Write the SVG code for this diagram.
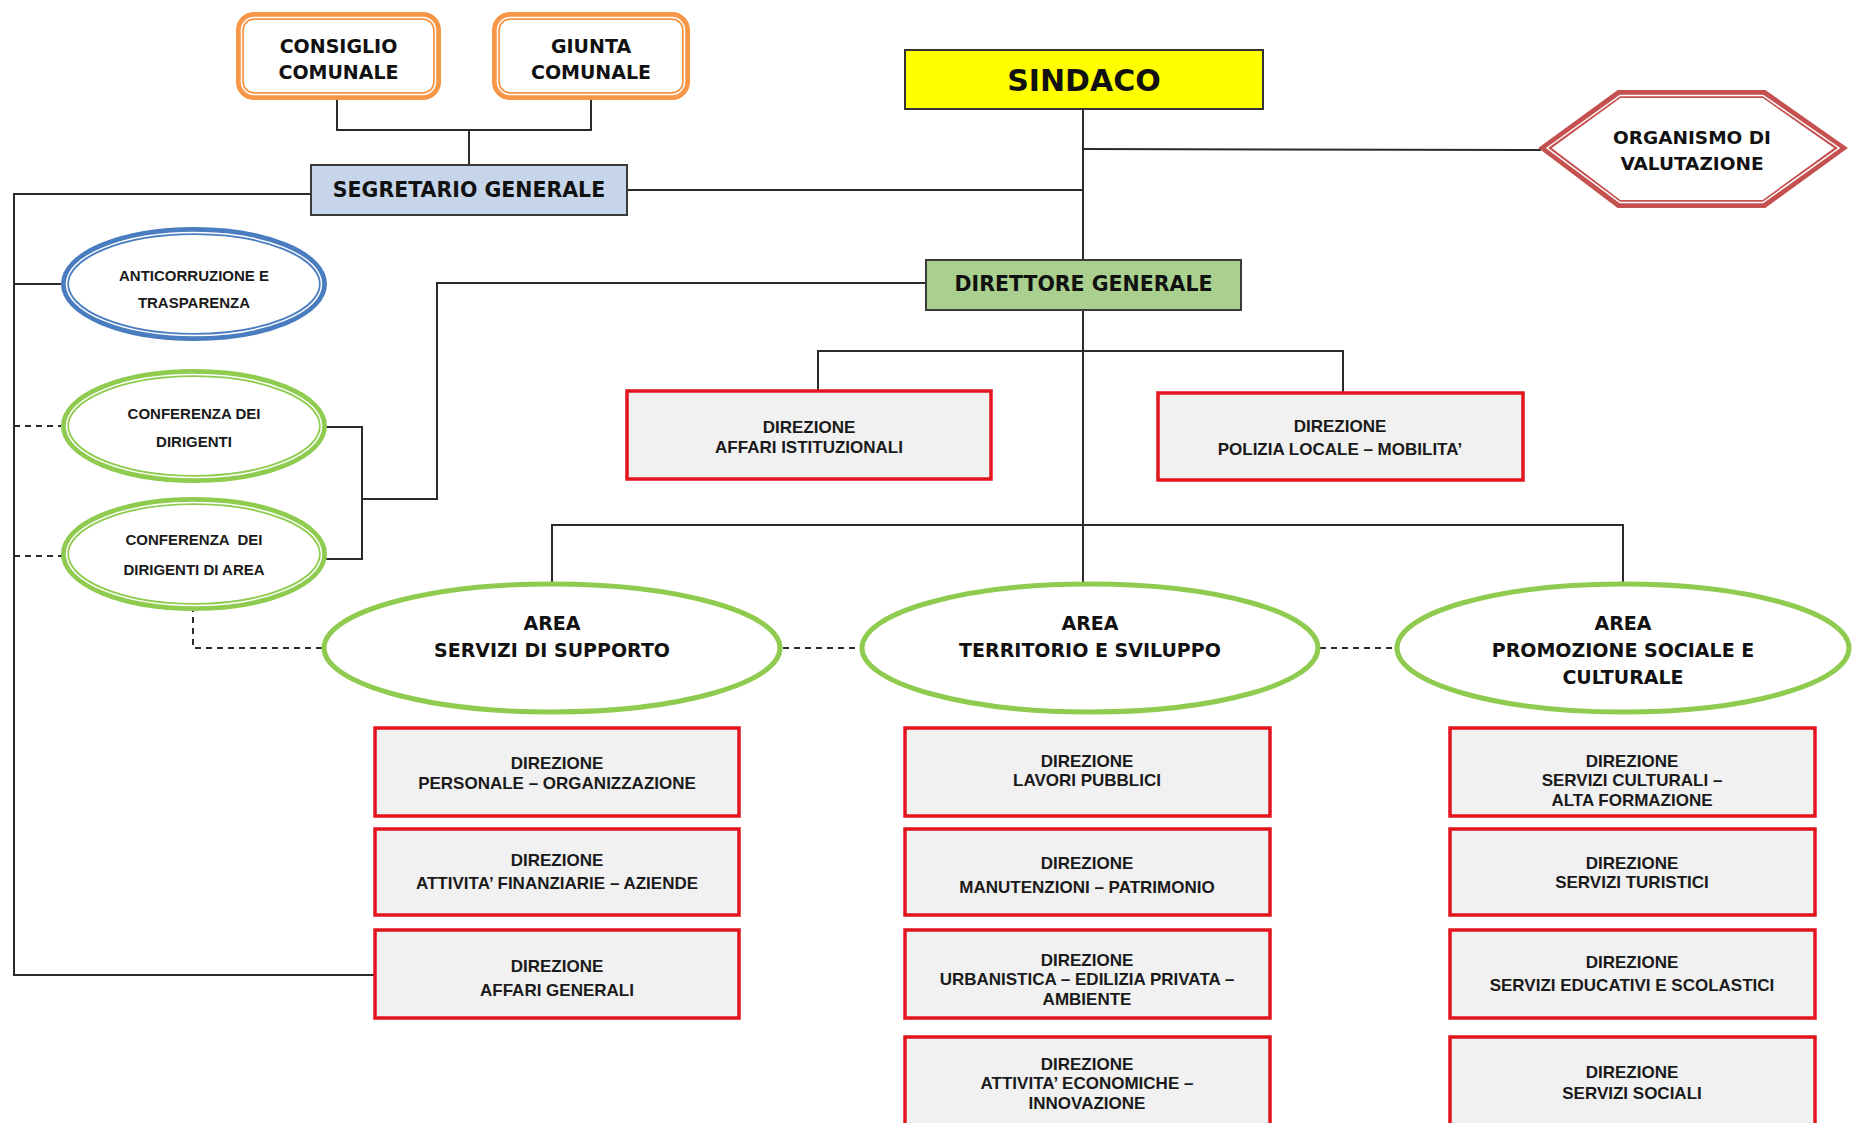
<svg xmlns="http://www.w3.org/2000/svg" width="1854" height="1123" viewBox="0 0 1854 1123">
<style>
.ln{stroke:#2b2b2b;stroke-width:2;fill:none}
.dash{stroke:#2b2b2b;stroke-width:2;stroke-dasharray:6 5;fill:none}
.red{fill:#f1f1f1;stroke:#e3141e;stroke-width:3.5}
.wl{fill:none;stroke:#ffffff;stroke-width:1.5}
.org{fill:#ffffff;stroke:#f79646;stroke-width:8}
.blu{fill:#ffffff;stroke:#4a7dbf;stroke-width:8}
.grn{fill:#ffffff;stroke:#8fcb4f;stroke-width:8}
.hex{fill:#ffffff;stroke:#c4504f;stroke-width:8}
.h{font-family:"DejaVu Sans","Liberation Sans",sans-serif;font-weight:bold;fill:#111;text-anchor:middle}
.s{font-family:"Liberation Sans","DejaVu Sans",sans-serif;font-weight:bold;fill:#1a1a1a;text-anchor:middle}
.d{font-size:17px}
</style>
<rect width="1854" height="1123" fill="#ffffff"/>
<g id="connectors">
<path class="ln" d="M337,100 V130 H591 V100 M469,130 V165"/>
<path class="ln" d="M1083,109 V260 M1083,310 V584"/>
<path class="ln" d="M1083,149 L1541,150"/>
<path class="ln" d="M627,190 H1083"/>
<path class="ln" d="M311,194 H14 V975 H375"/>
<path class="ln" d="M14,284 H61"/>
<path class="dash" d="M14,426 H62 M14,556 H62"/>
<path class="ln" d="M326,427 H362 V559 H326 M362,499 H437 V283 H926"/>
<path class="ln" d="M818,391 V351 H1343 V393"/>
<path class="ln" d="M552,585 V525 H1623 V585"/>
<path class="dash" d="M783,648 H860 M1320,648 H1395 M322,648 H193 V611"/>
</g>
<g id="consiglio">
<rect class="org" x="240" y="16" width="197" height="80" rx="14"/>
<rect class="wl" x="241.5" y="17.5" width="194" height="77" rx="12.5"/>
<text class="h" x="338.5" y="53" font-size="19">CONSIGLIO</text>
<text class="h" x="338.5" y="79" font-size="19">COMUNALE</text>
</g>
<g id="giunta">
<rect class="org" x="496" y="16" width="190" height="80" rx="14"/>
<rect class="wl" x="497.5" y="17.5" width="187" height="77" rx="12.5"/>
<text class="h" x="591" y="53" font-size="19">GIUNTA</text>
<text class="h" x="591" y="79" font-size="19">COMUNALE</text>
</g>
<g id="sindaco">
<rect x="905" y="50" width="358" height="59" fill="#ffff00" stroke="#333" stroke-width="2"/>
<text class="h" x="1084" y="91" font-size="30">SINDACO</text>
</g>
<g id="segretario">
<rect x="311" y="165" width="316" height="50" fill="#c6d5e9" stroke="#3a3a3a" stroke-width="2"/>
<text class="h" x="469" y="197" font-size="20.5">SEGRETARIO GENERALE</text>
</g>
<g id="organismo">
<polygon class="hex" points="1545,148 1619,94 1764,94 1841,148 1764,204 1619,204"/>
<polygon class="wl" points="1547,148 1620,95.5 1763,95.5 1839,148 1763,202.5 1620,202.5"/>
<text class="h" x="1692" y="144" font-size="18.5">ORGANISMO DI</text>
<text class="h" x="1692" y="170" font-size="18.5">VALUTAZIONE</text>
</g>
<g id="direttore">
<rect x="926" y="260" width="315" height="50" fill="#a9d08e" stroke="#3a3a3a" stroke-width="2"/>
<text class="h" x="1083.5" y="291" font-size="20.5">DIRETTORE GENERALE</text>
</g>
<g id="anticorruzione">
<ellipse class="blu" cx="194" cy="284" rx="129" ry="53"/>
<ellipse class="wl" cx="194" cy="284" rx="127.5" ry="51.5"/>
<text class="s" x="194" y="281" font-size="15">ANTICORRUZIONE E</text>
<text class="s" x="194" y="308" font-size="15">TRASPARENZA</text>
</g>
<g id="conferenza-dirigenti">
<ellipse class="grn" cx="194" cy="426" rx="129" ry="53"/>
<ellipse class="wl" cx="194" cy="426" rx="127.5" ry="51.5"/>
<text class="s" x="194" y="419" font-size="15">CONFERENZA DEI</text>
<text class="s" x="194" y="447" font-size="15">DIRIGENTI</text>
</g>
<g id="conferenza-area">
<ellipse class="grn" cx="194" cy="554" rx="129" ry="53"/>
<ellipse class="wl" cx="194" cy="554" rx="127.5" ry="51.5"/>
<text class="s" x="194" y="545" font-size="15" xml:space="preserve">CONFERENZA  DEI</text>
<text class="s" x="194" y="575" font-size="15">DIRIGENTI DI AREA</text>
</g>
<g id="dir-affari-istituzionali">
<rect class="red" x="627" y="391" width="364" height="88"/>
<text class="s d" x="809" y="433">DIREZIONE</text>
<text class="s d" x="809" y="453">AFFARI ISTITUZIONALI</text>
</g>
<g id="dir-polizia">
<rect class="red" x="1158" y="393" width="365" height="87"/>
<text class="s d" x="1340" y="432">DIREZIONE</text>
<text class="s d" x="1340" y="455">POLIZIA LOCALE – MOBILITA’</text>
</g>
<g id="area-supporto">
<ellipse cx="552" cy="648" rx="228" ry="64" fill="#fff" stroke="#8fcb4f" stroke-width="5"/>
<text class="h" x="552" y="630" font-size="19">AREA</text>
<text class="h" x="552" y="657" font-size="19">SERVIZI DI SUPPORTO</text>
</g>
<g id="area-territorio">
<ellipse cx="1090" cy="648" rx="228" ry="64" fill="#fff" stroke="#8fcb4f" stroke-width="5"/>
<text class="h" x="1090" y="630" font-size="19">AREA</text>
<text class="h" x="1090" y="657" font-size="19">TERRITORIO E SVILUPPO</text>
</g>
<g id="area-promozione">
<ellipse cx="1623" cy="648" rx="226" ry="64" fill="#fff" stroke="#8fcb4f" stroke-width="5"/>
<text class="h" x="1623" y="630" font-size="19">AREA</text>
<text class="h" x="1623" y="657" font-size="19">PROMOZIONE SOCIALE E</text>
<text class="h" x="1623" y="684" font-size="19">CULTURALE</text>
</g>
<g id="dir-personale">
<rect class="red" x="375" y="728" width="364" height="88"/>
<text class="s d" x="557" y="769">DIREZIONE</text>
<text class="s d" x="557" y="789">PERSONALE – ORGANIZZAZIONE</text>
</g>
<g id="dir-finanziarie">
<rect class="red" x="375" y="829" width="364" height="86"/>
<text class="s d" x="557" y="866">DIREZIONE</text>
<text class="s d" x="557" y="889">ATTIVITA’ FINANZIARIE – AZIENDE</text>
</g>
<g id="dir-affari-generali">
<rect class="red" x="375" y="930" width="364" height="88"/>
<text class="s d" x="557" y="972">DIREZIONE</text>
<text class="s d" x="557" y="996">AFFARI GENERALI</text>
</g>
<g id="dir-lavori-pubblici">
<rect class="red" x="905" y="728" width="365" height="88"/>
<text class="s d" x="1087" y="767">DIREZIONE</text>
<text class="s d" x="1087" y="786">LAVORI PUBBLICI</text>
</g>
<g id="dir-manutenzioni">
<rect class="red" x="905" y="829" width="365" height="86"/>
<text class="s d" x="1087" y="869">DIREZIONE</text>
<text class="s d" x="1087" y="893">MANUTENZIONI – PATRIMONIO</text>
</g>
<g id="dir-urbanistica">
<rect class="red" x="905" y="930" width="365" height="88"/>
<text class="s d" x="1087" y="966">DIREZIONE</text>
<text class="s d" x="1087" y="985">URBANISTICA – EDILIZIA PRIVATA –</text>
<text class="s d" x="1087" y="1005">AMBIENTE</text>
</g>
<g id="dir-attivita-economiche">
<rect class="red" x="905" y="1037" width="365" height="100"/>
<text class="s d" x="1087" y="1070">DIREZIONE</text>
<text class="s d" x="1087" y="1089">ATTIVITA’ ECONOMICHE –</text>
<text class="s d" x="1087" y="1109">INNOVAZIONE</text>
</g>
<g id="dir-servizi-culturali">
<rect class="red" x="1450" y="728" width="365" height="88"/>
<text class="s d" x="1632" y="767">DIREZIONE</text>
<text class="s d" x="1632" y="786">SERVIZI CULTURALI –</text>
<text class="s d" x="1632" y="806">ALTA FORMAZIONE</text>
</g>
<g id="dir-servizi-turistici">
<rect class="red" x="1450" y="829" width="365" height="86"/>
<text class="s d" x="1632" y="869">DIREZIONE</text>
<text class="s d" x="1632" y="888">SERVIZI TURISTICI</text>
</g>
<g id="dir-servizi-educativi">
<rect class="red" x="1450" y="930" width="365" height="88"/>
<text class="s d" x="1632" y="968">DIREZIONE</text>
<text class="s d" x="1632" y="991">SERVIZI EDUCATIVI E SCOLASTICI</text>
</g>
<g id="dir-servizi-sociali">
<rect class="red" x="1450" y="1037" width="365" height="100"/>
<text class="s d" x="1632" y="1078">DIREZIONE</text>
<text class="s d" x="1632" y="1099">SERVIZI SOCIALI</text>
</g>
</svg>
